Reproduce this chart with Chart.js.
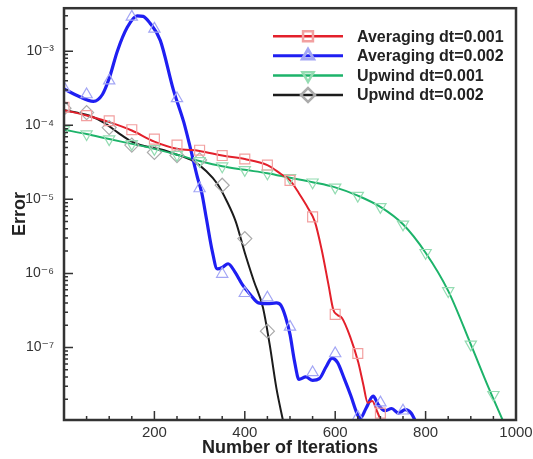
<!DOCTYPE html>
<html>
<head>
<meta charset="utf-8">
<script src="https://cdn.jsdelivr.net/npm/chart.js@4/dist/chart.umd.min.js"></script>
<style>
  html, body { margin: 0; padding: 0; background: #fff; }
  #wrap { width: 533px; height: 459px; }
</style>
</head>
<body>
<div id="wrap"><canvas id="canvas"></canvas></div>
<script>
// series names (legend order)
var seriesNames = ["Averaging dt=0.001", "Averaging dt=0.002", "Upwind dt=0.001", "Upwind dt=0.002"];

// Averaging dt=0.001 (red)
var avg1X = [0, 50, 100, 150, 200, 250, 300, 350, 400, 450, 480, 500, 520, 540, 555, 570, 585, 596, 605, 615, 633, 651, 662, 672, 682, 692, 702];
var avg1Y = [1.6e-4, 1.35e-4, 1.1e-4, 8.5e-5, 6.0e-5, 4.8e-5, 4.5e-5, 3.9e-5, 3.5e-5, 2.9e-5, 2.2e-5, 1.8e-5, 1.2e-5, 7.6e-6, 5.0e-6, 2.1e-6, 7.1e-7, 3.2e-7, 2.75e-7, 2.5e-7, 1.4e-7, 6.3e-8, 3.2e-8, 1.8e-8, 1.9e-8, 1.4e-8, 1.0e-8];
var avg1MarkX = [0, 50, 100, 150, 200, 250, 300, 350, 400, 450, 500, 550, 600, 650, 700];
var avg1MarkY = [1.74e-4, 1.35e-4, 1.15e-4, 8.7e-5, 6.5e-5, 5.4e-5, 4.6e-5, 3.9e-5, 3.5e-5, 2.9e-5, 1.8e-5, 5.8e-6, 2.8e-7, 8.3e-8, 1.3e-8];

// Averaging dt=0.002 (blue)
var avg2X = [0, 30, 65, 85, 100, 118, 140, 162, 175, 190, 213, 242, 265, 280, 295, 305, 315, 328, 339, 350, 363, 378, 395, 412, 430, 450, 470, 480, 490, 500, 510, 520, 535, 550, 565, 580, 593, 605, 620, 635, 648, 655, 668, 684, 695, 710, 725, 740, 755, 768, 778];
var avg2Y = [3.1e-4, 2.5e-4, 2.1e-4, 2.6e-4, 4.3e-4, 1.0e-3, 2.1e-3, 3.0e-3, 2.95e-3, 2.4e-3, 1.4e-3, 3.0e-4, 1.1e-4, 4.8e-5, 2.0e-5, 1.2e-5, 5.5e-6, 2.0e-6, 1.15e-6, 1.2e-6, 1.35e-6, 1.05e-6, 7.0e-7, 5.2e-7, 4.0e-7, 3.9e-7, 4.0e-7, 3.7e-7, 2.6e-7, 1.5e-7, 6.5e-8, 3.7e-8, 4.0e-8, 3.6e-8, 3.8e-8, 5.5e-8, 7.2e-8, 6.3e-8, 3.8e-8, 2.2e-8, 1.3e-8, 1.1e-8, 1.5e-8, 2.2e-8, 1.7e-8, 1.4e-8, 1.5e-8, 1.3e-8, 1.45e-8, 1.3e-8, 1.0e-8];
var avg2MarkX = [0, 50, 100, 150, 200, 250, 300, 350, 400, 450, 500, 550, 600, 650, 700, 750];
var avg2MarkY = [3.2e-4, 2.6e-4, 4.0e-4, 2.9e-3, 2.0e-3, 2.3e-4, 1.4e-5, 9.8e-7, 5.4e-7, 4.7e-7, 1.9e-7, 4.6e-8, 8.3e-8, 1.15e-8, 1.8e-8, 1.4e-8];

// Upwind dt=0.001 (green)
var up1X = [0, 50, 100, 150, 200, 250, 300, 350, 400, 450, 500, 550, 600, 650, 700, 750, 800, 850, 900, 940, 972];
var up1Y = [8.7e-5, 7.6e-5, 6.5e-5, 5.6e-5, 4.8e-5, 4.0e-5, 3.3e-5, 2.8e-5, 2.5e-5, 2.25e-5, 1.95e-5, 1.7e-5, 1.45e-5, 1.12e-5, 7.9e-6, 4.6e-6, 1.9e-6, 5.8e-7, 1.1e-7, 2.8e-8, 1.0e-8];
var up1MarkX = [0, 50, 100, 150, 200, 250, 300, 350, 400, 450, 500, 550, 600, 650, 700, 750, 800, 850, 900, 950];
var up1MarkY = [8.7e-5, 7.6e-5, 6.5e-5, 5.6e-5, 4.8e-5, 4.0e-5, 3.3e-5, 2.8e-5, 2.5e-5, 2.25e-5, 1.95e-5, 1.7e-5, 1.45e-5, 1.12e-5, 7.9e-6, 4.6e-6, 1.9e-6, 5.8e-7, 1.1e-7, 2.3e-8];

// Upwind dt=0.002 (black)
var up2X = [0, 30, 60, 90, 120, 150, 180, 215, 250, 285, 315, 340, 360, 380, 400, 420, 440, 455, 470, 485];
var up2Y = [1.6e-4, 1.48e-4, 1.32e-4, 1.07e-4, 7.9e-5, 6.0e-5, 5.2e-5, 4.7e-5, 4.0e-5, 3.3e-5, 2.4e-5, 1.6e-5, 9.5e-6, 5.0e-6, 1.9e-6, 7.9e-7, 3.5e-7, 1.1e-7, 2.8e-8, 1.0e-8];
var up2MarkX = [0, 50, 100, 150, 200, 250, 300, 350, 400, 450];
var up2MarkY = [1.7e-4, 1.48e-4, 9.3e-5, 5.4e-5, 4.3e-5, 3.9e-5, 3.4e-5, 1.55e-5, 2.95e-6, 1.66e-7];

// axis ticks
var xTicks = [200, 400, 600, 800, 1000];
var yTicks = [1e-7, 1e-6, 1e-5, 1e-4, 1e-3];
var yTickLabels = ["10\u207B\u2077", "10\u207B\u2076", "10\u207B\u2075", "10\u207B\u2074", "10\u207B\u00B3"];

var lineColors = ["#e3202b", "#1f1ff2", "#1db36a", "#1c1c1c"];
var markColors = ["#f2a0a0", "#a3a6f5", "#94dcb2", "#ababab"];
var markStyles = [
	{ pointStyle: "rect", radius: 7, rotation: 0 },
	{ pointStyle: "triangle", radius: 6.5, rotation: 0 },
	{ pointStyle: "triangle", radius: 6.5, rotation: 180 },
	{ pointStyle: "rectRot", radius: 7, rotation: 0 }
];

function pts(xs, ys) {
	return xs.map(function(x, i) { return { x: x, y: ys[i] }; });
}

var lineData = [pts(avg1X, avg1Y), pts(avg2X, avg2Y), pts(up1X, up1Y), pts(up2X, up2Y)];
var markData = [pts(avg1MarkX, avg1MarkY), pts(avg2MarkX, avg2MarkY), pts(up1MarkX, up1MarkY), pts(up2MarkX, up2MarkY)];

var datasets = [];
// hollow markers first so lines are drawn over them
markData.forEach(function(d, i) {
	datasets.push({
		label: seriesNames[i] + " markers",
		data: d,
		showLine: false,
		pointStyle: markStyles[i].pointStyle,
		pointRadius: markStyles[i].radius,
		pointRotation: markStyles[i].rotation,
		pointBorderColor: markColors[i],
		pointBackgroundColor: "rgba(0,0,0,0)",
		pointBorderWidth: 1.2,
		pointHoverRadius: markStyles[i].radius
	});
});
lineData.forEach(function(d, i) {
	datasets.push({
		label: seriesNames[i],
		data: d,
		showLine: true,
		borderColor: lineColors[i],
		borderWidth: i === 1 ? 3.2 : 2,
		pointRadius: 0,
		cubicInterpolationMode: "monotone",
		fill: false
	});
});

// legend inside plot, line + marker + text
var insideLegend = {
	id: "insideLegend",
	afterDatasetsDraw: function(chart) {
		var ctx = chart.ctx, a = chart.chartArea;
		ctx.save();
		for (var i = 0; i < seriesNames.length; i++) {
			var y = a.top + 28 + i * 19.6;
			var x0 = a.left + 209, x1 = a.left + 279;
			ctx.strokeStyle = lineColors[i];
			ctx.lineWidth = i === 1 ? 3 : 2.5;
			ctx.beginPath();
			ctx.moveTo(x0, y);
			ctx.lineTo(x1, y);
			ctx.stroke();
			ctx.strokeStyle = markColors[i];
			ctx.fillStyle = "rgba(0,0,0,0)";
			Chart.helpers.drawPoint(ctx, {
				pointStyle: markStyles[i].pointStyle,
				radius: markStyles[i].radius,
				rotation: markStyles[i].rotation,
				borderWidth: 1.2
			}, (x0 + x1) / 2, y);
			ctx.fillStyle = "#222";
			ctx.font = "bold 16px 'Liberation Sans', Arial, sans-serif";
			ctx.textBaseline = "middle";
			ctx.textAlign = "left";
			ctx.fillText(seriesNames[i], a.left + 293, y + 1);
		}
		ctx.restore();
	}
};

// frame and inward tick marks
var frameTicks = {
	id: "frameTicks",
	afterDraw: function(chart) {
		var ctx = chart.ctx, a = chart.chartArea;
		var xs = chart.scales.x, ys = chart.scales.y;
		ctx.save();
		ctx.strokeStyle = "#333";
		ctx.lineWidth = 1.5;
		ctx.beginPath();
		for (var v = 50; v < 1000; v += 50) {
			var px = xs.getPixelForValue(v);
			var len = v % 200 === 0 ? 9 : 4;
			ctx.moveTo(px, a.bottom);
			ctx.lineTo(px, a.bottom - len);
		}
		for (var e = -9; e <= -3; e++) {
			for (var k = 1; k <= 9; k++) {
				var val = k * Math.pow(10, e);
				if (val <= ys.min || val >= ys.max) continue;
				var py = ys.getPixelForValue(val);
				var l = k === 1 ? 9 : 4;
				ctx.moveTo(a.left, py);
				ctx.lineTo(a.left + l, py);
			}
		}
		ctx.stroke();
		ctx.lineWidth = 2.5;
		ctx.strokeRect(a.left, a.top, a.right - a.left, a.bottom - a.top);
		ctx.restore();
	}
};

var ctx = document.getElementById("canvas").getContext("2d");
var chart = new Chart(ctx, {
	type: "scatter",
	data: { datasets: datasets },
	options: {
		responsive: true,
		maintainAspectRatio: false,
		animation: false,
		layout: { padding: { top: 5, right: 17, left: 0, bottom: 0 } },
		plugins: {
			legend: { display: false },
			tooltip: { enabled: false }
		},
		scales: {
			x: {
				type: "linear",
				min: 0,
				max: 1000,
				grid: { display: false },
				border: { display: false },
				afterBuildTicks: function(scale) {
					scale.ticks = xTicks.map(function(v) { return { value: v }; });
				},
				afterFit: function(scale) {
					scale.height = 39;
					scale.paddingLeft = 0;
					scale.paddingRight = 0;
				},
				ticks: {
					autoSkip: false,
					maxRotation: 0,
					padding: -4,
					color: "#333",
					font: { family: "'Liberation Sans', Arial, sans-serif", size: 15 },
					callback: function(value) { return String(value); }
				},
				title: {
					display: true,
					text: "Number of Iterations",
					color: "#222",
					padding: { top: 0, bottom: 0 },
					font: { family: "'Liberation Sans', Arial, sans-serif", size: 18, weight: "bold" }
				}
			},
			y: {
				type: "logarithmic",
				min: 1.05e-8,
				max: 3.8e-3,
				grid: { display: false },
				border: { display: false },
				afterBuildTicks: function(scale) {
					scale.ticks = yTicks.map(function(v) { return { value: v }; });
				},
				afterFit: function(scale) {
					scale.width = 64;
					scale.paddingTop = 0;
					scale.paddingBottom = 0;
				},
				ticks: {
					autoSkip: false,
					padding: 2,
					color: "#333",
					font: { family: "'Liberation Sans', 'DejaVu Sans', Arial, sans-serif", size: 14 },
					callback: function(value) {
						return yTickLabels[yTicks.indexOf(value)];
					}
				},
				title: {
					display: true,
					text: "Error",
					color: "#222",
					padding: { top: 9, bottom: 0 },
					font: { family: "'Liberation Sans', Arial, sans-serif", size: 18, weight: "bold" }
				}
			}
		}
	},
	plugins: [insideLegend, frameTicks]
});
</script>
</body>
</html>
